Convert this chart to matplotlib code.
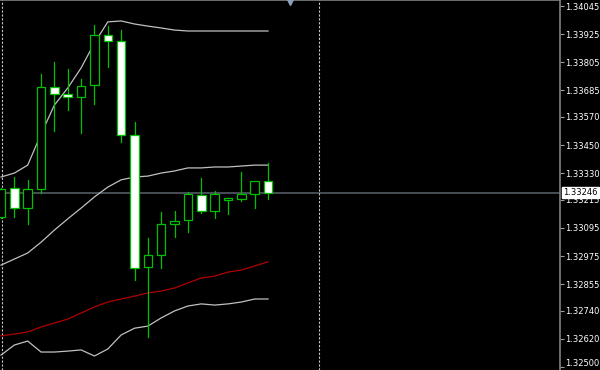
import matplotlib
matplotlib.use('Agg')
import matplotlib.pyplot as plt
import matplotlib.transforms as mtransforms
from matplotlib.patches import Rectangle
import numpy as np

# OHLC candles
opens = [1.33142, 1.33266, 1.33180, 1.33262, 1.33698, 1.33668, 1.33656, 1.33707, 1.33921, 1.33895,
         1.33493, 1.32928, 1.32979, 1.33112, 1.33129, 1.33236, 1.33167, 1.33215, 1.33219, 1.33241, 1.33296]
highs = [1.33266, 1.33313, 1.33301, 1.33754, 1.33805, 1.33775, 1.33733, 1.33964, 1.33959, 1.33942,
         1.33549, 1.33052, 1.33163, 1.33167, 1.33249, 1.33309, 1.33253, 1.33223, 1.33335, 1.33296, 1.33373]
lows = [1.33138, 1.33142, 1.33112, 1.33245, 1.33510, 1.33600, 1.33501, 1.33626, 1.33784, 1.33463,
        1.32872, 1.32629, 1.32924, 1.33056, 1.33078, 1.33159, 1.33138, 1.33155, 1.33210, 1.33180, 1.33219]
closes = [1.33262, 1.33180, 1.33262, 1.33698, 1.33668, 1.33656, 1.33703, 1.33921, 1.33895, 1.33493,
          1.32924, 1.32979, 1.33112, 1.33125, 1.33241, 1.33167, 1.33241, 1.33223, 1.33241, 1.33296, 1.33246]

# indicator lines (one value per bar)
bb_upper = [1.33313, 1.33330, 1.33364, 1.33497, 1.33621, 1.33694, 1.33780, 1.33887, 1.33977, 1.33981,
            1.33968, 1.33959, 1.33951, 1.33942, 1.33938, 1.33938, 1.33938, 1.33938, 1.33938, 1.33938, 1.33938]
bb_mid = [1.32936, 1.32962, 1.32988, 1.33034, 1.33086, 1.33134, 1.33180, 1.33228, 1.33270, 1.33301,
          1.33313, 1.33317, 1.33330, 1.33339, 1.33352, 1.33352, 1.33356, 1.33356, 1.33360, 1.33364, 1.33364]
bb_lower = [1.32551, 1.32594, 1.32611, 1.32564, 1.32564, 1.32568, 1.32573, 1.32547, 1.32577, 1.32637,
            1.32666, 1.32675, 1.32710, 1.32740, 1.32761, 1.32770, 1.32765, 1.32770, 1.32778, 1.32791, 1.32791]
ma_red = [1.32633, 1.32641, 1.32650, 1.32671, 1.32688, 1.32705, 1.32731, 1.32757, 1.32778, 1.32791,
          1.32803, 1.32817, 1.32825, 1.32838, 1.32860, 1.32881, 1.32889, 1.32906, 1.32915, 1.32932, 1.32950]

price_ticks = [1.34045, 1.33925, 1.33805, 1.33685, 1.33570, 1.33450, 1.33330,
               1.33215, 1.33095, 1.32975, 1.32855, 1.32740, 1.32620, 1.32500]
tick_labels = ['1.34045', '1.33925', '1.33805', '1.33685', '1.33570', '1.33450', '1.33330',
               '1.33215', '1.33095', '1.32975', '1.32855', '1.32740', '1.32620', '1.32500']
last_price = 1.33246
separators = [0.06, 23.8]

green = '#00c000'
grey = '#c0c0c0'

fig = plt.figure(figsize=(6, 3.7), dpi=100, facecolor='black')
ax = fig.add_axes([0, 0, 560 / 600, 1])
ax.set_facecolor('black')

x = np.arange(len(opens))

# bands and moving average
ax.plot(x, bb_upper, color=grey, lw=0.9, zorder=2)
ax.plot(x, bb_mid, color=grey, lw=0.9, zorder=2)
ax.plot(x, bb_lower, color=grey, lw=0.9, zorder=2)
ax.plot(x, ma_red, color='#b00000', lw=0.9, zorder=2)

# current price line
ax.axhline(last_price, color='#4c545c', lw=1.3, zorder=1)

# period separators
for s in separators:
    ax.axvline(s, color='#c8c8c8', lw=0.8, dashes=(2, 1.5), zorder=1)

# candles
w = 0.64
for i in x:
    o, h, l, c = opens[i], highs[i], lows[i], closes[i]
    ax.plot([i, i], [l, h], color=green, lw=0.9, zorder=3)
    face = 'white' if c < o else 'black'
    bottom = min(o, c)
    height = max(abs(c - o), 0.00002)
    ax.add_patch(Rectangle((i - w / 2, bottom), w, height, facecolor=face,
                           edgecolor=green, lw=0.9, zorder=4))

ax.set_xlim(-0.075, 41.87)
ax.set_ylim(1.324871, 1.340707)

ax.yaxis.tick_right()
ax.set_yticks(price_ticks)
ax.set_yticklabels(tick_labels)
ax.tick_params(axis='y', colors='#a0a0a0', labelcolor='white', length=3, width=0.8,
               pad=1, labelsize=6)
ax.set_xticks([])
for side in ['left', 'bottom']:
    ax.spines[side].set_visible(False)
for side in ['top', 'right']:
    ax.spines[side].set_color('#808080')
    ax.spines[side].set_linewidth(1.2)

# nudge the bottom label up so it stays inside the image
lbl = ax.get_yticklabels()[-1]
lbl.set_transform(lbl.get_transform() + mtransforms.ScaledTranslation(0, 3 / 72, fig.dpi_scale_trans))

# last price label
ax.text(1.0 + 3 / 560, last_price, '1.33246', transform=ax.get_yaxis_transform(),
        ha='left', va='center', fontsize=6, color='black',
        bbox=dict(boxstyle='square,pad=0.15', facecolor='white', edgecolor='white'),
        zorder=10, clip_on=False)

# shift marker at top
ax.plot([290 / 560], [0.995], marker='v', markersize=4, color='#8aa0b8',
        transform=ax.transAxes, clip_on=False, zorder=10)

fig.savefig('out.png', dpi=100, facecolor='black')
